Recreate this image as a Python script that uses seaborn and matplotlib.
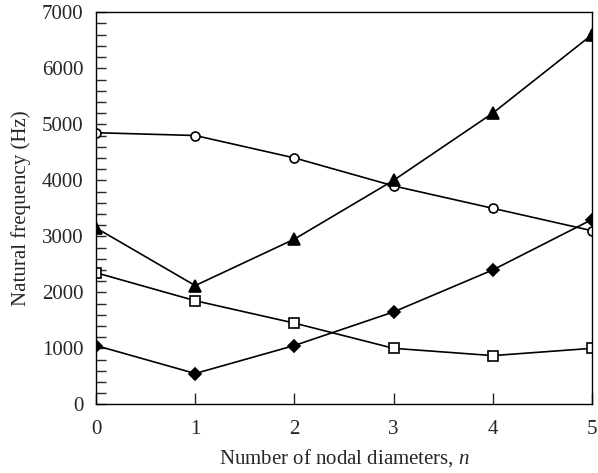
import matplotlib
matplotlib.use("Agg")
import matplotlib.pyplot as plt
from matplotlib.ticker import MultipleLocator
import seaborn as sns
import pandas as pd

# Natural frequencies (Hz) against number of nodal diameters
nodal_diameters = [0, 1, 2, 3, 4, 5]
freq_circle = [4850, 4800, 4400, 3900, 3500, 3100]
freq_triangle = [3150, 2120, 2950, 4000, 5200, 6600]
freq_square = [2350, 1850, 1450, 1000, 870, 1000]
freq_diamond = [1050, 550, 1050, 1650, 2400, 3300]

sns.set_theme(style="ticks")
plt.rcParams["font.family"] = ["Liberation Serif", "DejaVu Serif"]
plt.rcParams["mathtext.fontset"] = "custom"
plt.rcParams["mathtext.rm"] = "Liberation Serif"
plt.rcParams["mathtext.it"] = "Liberation Serif:italic"

fig = plt.figure(figsize=(5.98, 4.73), dpi=100)
ax = fig.add_axes([0.1605, 0.1452, 0.8295, 0.8288])

series = [
    (freq_circle, "o", "white", 6.5),
    (freq_triangle, "^", "black", 8),
    (freq_square, "s", "white", 7),
    (freq_diamond, "D", "black", 6),
]
for values, marker, face, size in series:
    df = pd.DataFrame({"n": nodal_diameters, "f": values})
    sns.lineplot(data=df, x="n", y="f", ax=ax, color="black", linewidth=1.2,
                 marker=marker, markersize=size, markerfacecolor=face,
                 markeredgecolor="black", markeredgewidth=1.2)

ax.set_xlim(0, 5)
ax.set_ylim(0, 7000)
ax.xaxis.set_major_locator(MultipleLocator(1))
ax.yaxis.set_major_locator(MultipleLocator(1000))
ax.yaxis.set_minor_locator(MultipleLocator(200))
ax.tick_params(axis="y", which="both", direction="in", length=7, width=1,
               labelsize=15, right=False, pad=9)
ax.tick_params(axis="x", which="major", direction="in", length=8, width=1,
               labelsize=15, top=False, pad=11)
for s in ax.spines.values():
    s.set_linewidth(1.0)
    s.set_color("black")

ax.set_xlabel("Number of nodal diameters, $\\it{n}$", fontsize=15, labelpad=6)
ax.set_ylabel("Natural frequency (Hz)", fontsize=15, labelpad=8)

fig.savefig("out.png", dpi=100)
